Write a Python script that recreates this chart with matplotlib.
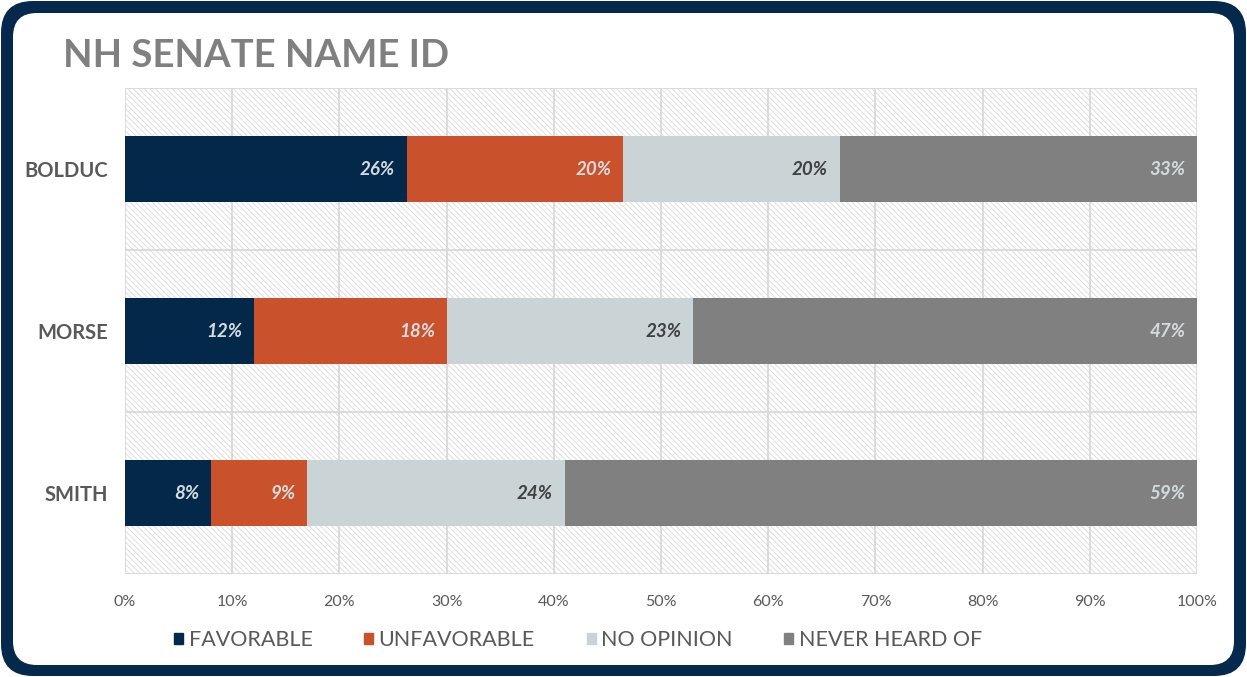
import matplotlib.pyplot as plt
import matplotlib.patches as mpatches
from matplotlib.transforms import IdentityTransform
import numpy as np

candidates = ['BOLDUC', 'MORSE', 'SMITH']
series = ['FAVORABLE', 'UNFAVORABLE', 'NO OPINION', 'NEVER HEARD OF']
favorable = [26, 12, 8]
unfavorable = [20, 18, 9]
no_opinion = [20, 23, 24]
never_heard = [33, 47, 59]
colors = ['#03284a', '#c9512b', '#cad4d7', '#808080']
label_colors = ['#d3dbde', '#d3dbde', '#404040', '#d3dbde']
xticks = [0, 10, 20, 30, 40, 50, 60, 70, 80, 90, 100]

plt.rcParams['font.family'] = ['Lato', 'DejaVu Sans']
plt.rcParams['hatch.linewidth'] = 0.6

W, H = 1247, 677
fig = plt.figure(figsize=(W / 100, H / 100), dpi=100)

# frame
outer = mpatches.FancyBboxPatch((1, 1), W - 2, H - 2, boxstyle='round,pad=0,rounding_size=32',
                                transform=IdentityTransform(), facecolor='#04294d', edgecolor='none',
                                zorder=-10)
inner = mpatches.FancyBboxPatch((13, 12), W - 26, H - 25, boxstyle='round,pad=0,rounding_size=24',
                                transform=IdentityTransform(), facecolor='white', edgecolor='none',
                                zorder=-9)
fig.patches.extend([outer, inner])

fig.text(63 / W, 1 - 56 / H, 'NH SENATE NAME ID', fontsize=27.5, fontweight='bold',
         color='#808080', va='center', ha='left')

ax = fig.add_axes([125 / W, 1 - 574 / H, (1197 - 125) / W, (574 - 88) / H])
ax.set_facecolor('none')

bg = mpatches.Rectangle((0, 0), 1, 1, transform=ax.transAxes, facecolor='white',
                        edgecolor='#d9d9d9', linewidth=0, hatch='\\\\\\\\\\\\', zorder=0)
ax.add_patch(bg)

data = np.array([favorable, unfavorable, no_opinion, never_heard], dtype=float)
totals = data.sum(axis=0)
pct = data / totals * 100
y = np.arange(len(candidates))
left = np.zeros(len(candidates))
for i, name in enumerate(series):
    ax.barh(y, pct[i], left=left, height=0.41, color=colors[i], label=name, zorder=3)
    for j in range(len(candidates)):
        ax.text(left[j] + pct[i][j] - 1.1, y[j], f'{int(data[i][j])}%', ha='right', va='center',
                fontsize=13.5, fontweight='bold', fontstyle='italic', color=label_colors[i], zorder=4)
    left += pct[i]

ax.set_xlim(0, 100)
ax.set_ylim(len(candidates) - 0.5, -0.5)
ax.set_xticks(xticks)
ax.set_xticklabels([f'{t}%' for t in xticks], fontsize=11.5, color='#595959')
ax.set_yticks(y)
ax.set_yticklabels(candidates, fontsize=14.5, fontweight='bold', color='#595959')
ax.tick_params(axis='x', length=0, pad=15)
ax.tick_params(axis='y', length=0, pad=12)

for xv in xticks:
    ax.axvline(xv, color='#d9d9d9', linewidth=1.3, zorder=1)
for yv in np.arange(len(candidates) + 1) - 0.5:
    ax.axhline(yv, color='#d9d9d9', linewidth=1.3, zorder=1)
for s in ax.spines.values():
    s.set_visible(False)

handles = [mpatches.Patch(color=c) for c in colors]
fig.legend(handles, series, loc='center', bbox_to_anchor=(578 / W, 1 - 640 / H), ncol=4,
           frameon=False, fontsize=15.5, handlelength=0.42, handleheight=0.42,
           handletextpad=0.25, columnspacing=2.4, labelcolor='#595959')

fig.savefig('out.png', dpi=100, facecolor='white')
